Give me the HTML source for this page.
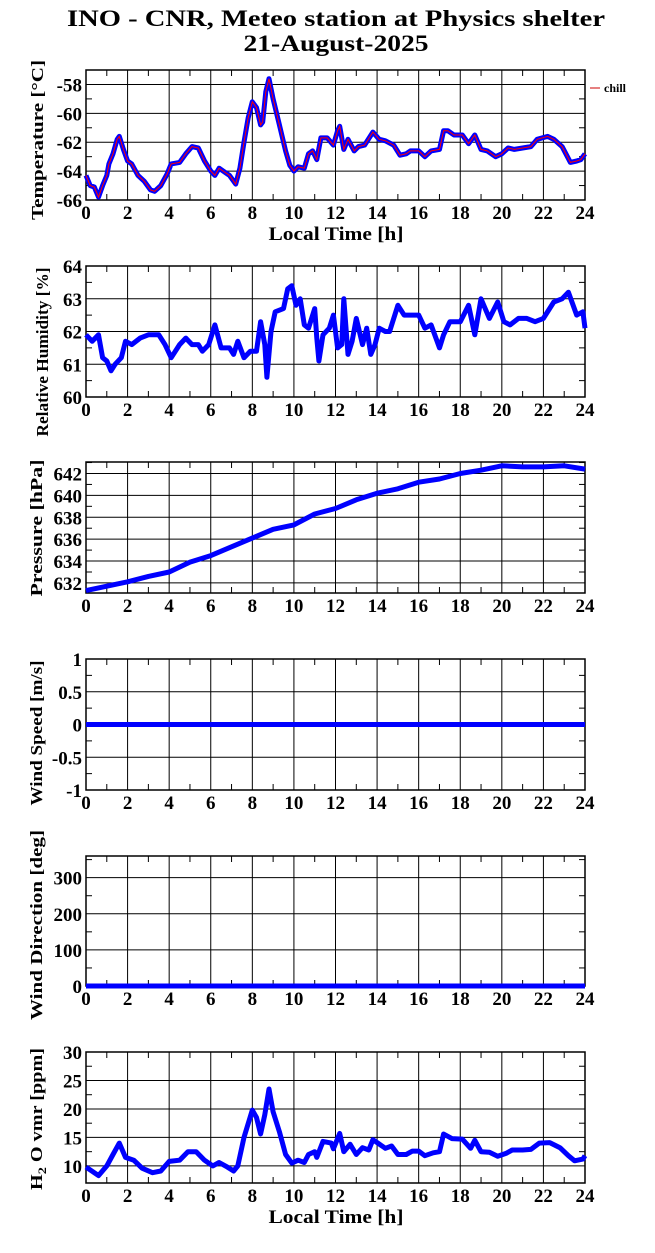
<!DOCTYPE html>
<html><head><meta charset="utf-8"><style>
body{margin:0;background:#fff;width:655px;height:1248px;overflow:hidden}
svg text{font-family:"Liberation Serif",serif;font-weight:bold;fill:#000}
</style></head><body>
<svg id="chart" width="655" height="1248" xmlns="http://www.w3.org/2000/svg">
<text x="336" y="26" font-size="23" text-anchor="middle" textLength="538" lengthAdjust="spacingAndGlyphs">INO - CNR, Meteo station at Physics shelter</text>
<text x="336" y="51" font-size="23" text-anchor="middle" textLength="185" lengthAdjust="spacingAndGlyphs">21-August-2025</text>
<line x1="590" y1="88" x2="600" y2="88" stroke="#c00" stroke-width="1"/>
<text x="604" y="92" font-size="12">chill</text>
</svg>
<script>
const hours = [0,2,4,6,8,10,12,14,16,18,20,22,24];
const tempT=[0,0.2,0.4,0.6,0.8,1.0,1.1,1.3,1.5,1.6,1.8,2.0,2.2,2.5,2.8,3.1,3.3,3.6,3.9,4.1,4.5,4.8,5.1,5.4,5.7,6.0,6.2,6.4,6.6,6.9,7.2,7.4,7.6,7.8,8.0,8.2,8.4,8.5,8.65,8.8,9.0,9.3,9.6,9.8,10.0,10.2,10.5,10.7,10.9,11.1,11.3,11.6,11.9,12.1,12.2,12.4,12.6,12.9,13.1,13.4,13.8,14.1,14.4,14.8,15.1,15.4,15.6,16.0,16.3,16.6,17.0,17.2,17.4,17.7,18.1,18.4,18.7,19.0,19.3,19.7,20.0,20.3,20.6,21,21.4,21.7,22.2,22.5,22.9,23.3,23.6,23.8,24];
const tempV=[-64.3,-65,-65.1,-65.8,-65,-64.3,-63.5,-62.8,-61.8,-61.6,-62.5,-63.3,-63.5,-64.3,-64.7,-65.3,-65.4,-65,-64.2,-63.5,-63.4,-62.8,-62.3,-62.4,-63.3,-64,-64.3,-63.8,-64,-64.3,-64.9,-63.8,-62,-60.3,-59.2,-59.6,-60.8,-60.6,-58.5,-57.6,-59,-60.8,-62.6,-63.6,-64,-63.7,-63.8,-62.8,-62.6,-63.2,-61.7,-61.7,-62.2,-61.2,-60.9,-62.5,-61.8,-62.6,-62.3,-62.2,-61.3,-61.8,-61.9,-62.2,-62.9,-62.8,-62.6,-62.6,-63,-62.6,-62.5,-61.2,-61.2,-61.5,-61.5,-62.1,-61.5,-62.5,-62.6,-63,-62.8,-62.4,-62.5,-62.4,-62.3,-61.8,-61.6,-61.8,-62.3,-63.4,-63.3,-63.2,-62.8];
const rhT=[0,0.3,0.6,0.8,1.0,1.2,1.4,1.7,1.9,2.2,2.6,3.0,3.5,3.8,4.1,4.5,4.8,5.1,5.4,5.6,5.9,6.2,6.5,6.9,7.1,7.3,7.6,7.9,8.2,8.4,8.6,8.7,8.9,9.1,9.5,9.7,9.9,10.1,10.3,10.5,10.7,11.0,11.1,11.2,11.4,11.7,11.9,12.1,12.3,12.4,12.6,12.8,13.0,13.3,13.5,13.7,13.9,14.1,14.4,14.6,15.0,15.3,15.7,16.0,16.3,16.6,17.0,17.2,17.5,18.0,18.4,18.7,19.0,19.4,19.8,20.1,20.4,20.8,21.2,21.6,22.0,22.5,22.9,23.2,23.6,23.9,24];
const rhV=[61.9,61.7,61.9,61.2,61.1,60.8,61.0,61.2,61.7,61.6,61.8,61.9,61.9,61.6,61.2,61.6,61.8,61.6,61.6,61.4,61.6,62.2,61.5,61.5,61.3,61.7,61.2,61.4,61.4,62.3,61.6,60.6,62.0,62.6,62.7,63.3,63.4,62.8,63.0,62.2,62.1,62.7,61.8,61.1,61.9,62.1,62.5,61.5,61.6,63.0,61.3,61.7,62.4,61.6,62.1,61.3,61.6,62.1,62.0,62.0,62.8,62.5,62.5,62.5,62.1,62.2,61.5,61.9,62.3,62.3,62.8,61.9,63.0,62.4,62.9,62.3,62.2,62.4,62.4,62.3,62.4,62.9,63.0,63.2,62.5,62.6,62.1];
const presT=[0,1,2,3,4,5,6,7,8,9,10,11,12,13,14,15,16,17,18,19,20,21,22,23,24];
const presV=[631.3,631.7,632.1,632.6,633.0,633.9,634.5,635.3,636.1,636.9,637.3,638.3,638.8,639.6,640.2,640.6,641.2,641.5,642.0,642.3,642.7,642.6,642.6,642.7,642.4];
const windT=[0,24];
const windSpeedV=[0,0];
const windDirV=[0,0];
const h2oT=[0,0.6,1.0,1.3,1.6,1.9,2.3,2.7,3.2,3.6,4.0,4.5,4.9,5.3,5.7,6.1,6.4,6.8,7.1,7.3,7.6,8.0,8.2,8.4,8.6,8.8,9.0,9.3,9.6,9.9,10.2,10.5,10.7,11.0,11.1,11.4,11.8,11.9,12.2,12.4,12.7,13.0,13.3,13.6,13.8,14.2,14.4,14.7,15.0,15.4,15.7,16.0,16.3,16.7,17.0,17.2,17.6,18.1,18.5,18.7,19.0,19.4,19.8,20.2,20.5,21.0,21.4,21.8,22.3,22.8,23.2,23.5,23.9,24];
const h2oV=[9.8,8.3,10,12,14,11.5,11,9.6,8.8,9.1,10.8,11,12.5,12.5,11,10,10.6,9.8,9.1,10,15,19.8,18.5,15.6,19,23.5,19.5,16,12,10.5,11,10.6,12,12.5,11.5,14.3,14,13,15.7,12.5,13.8,12,13.2,12.8,14.6,13.6,13.1,13.5,12,12,12.6,12.6,11.8,12.3,12.5,15.6,14.8,14.7,13.1,14.5,12.5,12.4,11.7,12.2,12.8,12.8,12.9,14,14.1,13.2,11.8,10.9,11.2,11.8];
const tempTicks=[-66,-64,-62,-60,-58];
const rhTicks=[60,61,62,63,64];
const presTicks=[632,634,636,638,640,642];
const wsTicks=[-1,-0.5,0,0.5,1];
const wdTicks=[0,100,200,300];
const h2oTicks=[10,15,20,25,30];

const NS="http://www.w3.org/2000/svg";
const svg=document.getElementById('chart');
const X0=86,X1=585;
function mk(tag,attrs,parent){const e=document.createElementNS(NS,tag);for(const k in attrs)e.setAttribute(k,attrs[k]);(parent||svg).appendChild(e);return e;}
function panel(p){
  const g=mk('g',{});
  
  
  const xs=h=>X0+(h/24)*(X1-X0);
  const ys=v=>p.bot-(v-p.min)/(p.max-p.min)*(p.bot-p.top);
  for(let h=1;h<24;h++){
    const x=xs(h);
    if(h%2===0){const l=mk('line',{x1:x,y1:p.top,x2:x,y2:p.bot,stroke:'#000','stroke-width':1},g);
      
      }
    else{mk('line',{x1:x,y1:p.top,x2:x,y2:p.top+6,stroke:'#000','stroke-width':1},g);mk('line',{x1:x,y1:p.bot,x2:x,y2:p.bot-6,stroke:'#000','stroke-width':1},g);}
  }
  p.ticks.forEach((v,i)=>{
    const y=ys(v);
    const l=mk('line',{x1:X0,y1:y,x2:X1,y2:y,stroke:'#000','stroke-width':1},g);
    
    
    const t=mk('text',{x:X0-4,y:y+7,'font-size':19,'text-anchor':'end'},g);
    t.textContent=String(v);
    
    
    if(i<p.ticks.length-1||p.minorTop){
      const m=v+p.step/2;
      if(m<p.max){const ym=ys(m);mk('line',{x1:X0,y1:ym,x2:X0+6,y2:ym,stroke:'#000'},g);mk('line',{x1:X1,y1:ym,x2:X1-6,y2:ym,stroke:'#000'},g);}
    }
  });
  const r=mk('rect',{x:X0,y:p.top,width:X1-X0,height:p.bot-p.top,fill:'none',stroke:'#000','stroke-width':1.5},g);
  
  
  hours.forEach(h=>{
    const t=mk('text',{x:xs(h),y:p.bot+19,'font-size':19,'text-anchor':'middle'},g);
    t.textContent=String(h);
    
    
  });
  const cy=p.cy;
  const yt=mk('text',{x:p.tx,y:cy,'font-size':17,'text-anchor':'middle',textLength:p.tl,lengthAdjust:'spacingAndGlyphs',transform:`rotate(-90 ${p.tx} ${cy})`},g);
  yt.innerHTML=p.title;
  
  
  if(p.xlabel){
    const xt=mk('text',{x:336,y:p.bot+40,'font-size':19,'text-anchor':'middle',textLength:135,lengthAdjust:'spacingAndGlyphs'},g);
    xt.textContent='Local Time [h]';
    
    
  }
  const pts=p.t.map((h,i)=>xs(h).toFixed(1)+','+ys(p.v[i]).toFixed(1)).join(' ');
  const line=mk('polyline',{points:pts,fill:'none',stroke:'#0000ff','stroke-width':5,'stroke-linejoin':'round'},g);
  
  
  if(p.red){
    const rl=mk('polyline',{points:pts,fill:'none',stroke:'#ff0000','stroke-width':1},g);
    
    
  }
}
panel({name:'temperature',top:70,bot:200,min:-66,max:-57,ticks:tempTicks,step:2,minorTop:true,t:tempT,v:tempV,red:true,title:'Temperature [°C]',tx:43,cy:140,tl:160,xlabel:true});
panel({name:'humidity',top:266,bot:397,min:60,max:64,ticks:rhTicks,step:1,t:rhT,v:rhV,title:'Relative Humidity [%]',tx:48,cy:352,tl:169});
panel({name:'pressure',top:462,bot:593,min:631.08,max:643.05,ticks:presTicks,step:2,minorTop:true,t:presT,v:presV,title:'Pressure [hPa]',tx:42,cy:528,tl:137});
panel({name:'wind-speed',top:659,bot:790,min:-1,max:1,ticks:wsTicks,step:0.5,t:windT,v:windSpeedV,title:'Wind Speed [m/s]',tx:42,cy:733,tl:145});
panel({name:'wind-direction',top:856,bot:986,min:0,max:360,ticks:wdTicks,step:100,minorTop:true,t:windT,v:windDirV,title:'Wind Direction [deg]',tx:42,cy:925,tl:190});
panel({name:'h2o',top:1052,bot:1183,min:7,max:30,ticks:h2oTicks,step:5,t:h2oT,v:h2oV,title:'H<tspan font-size="12" dy="4">2</tspan><tspan dy="-4"> O vmr [ppm]</tspan>',tx:42,cy:1119,tl:142,xlabel:true});
</script>
</body></html>
